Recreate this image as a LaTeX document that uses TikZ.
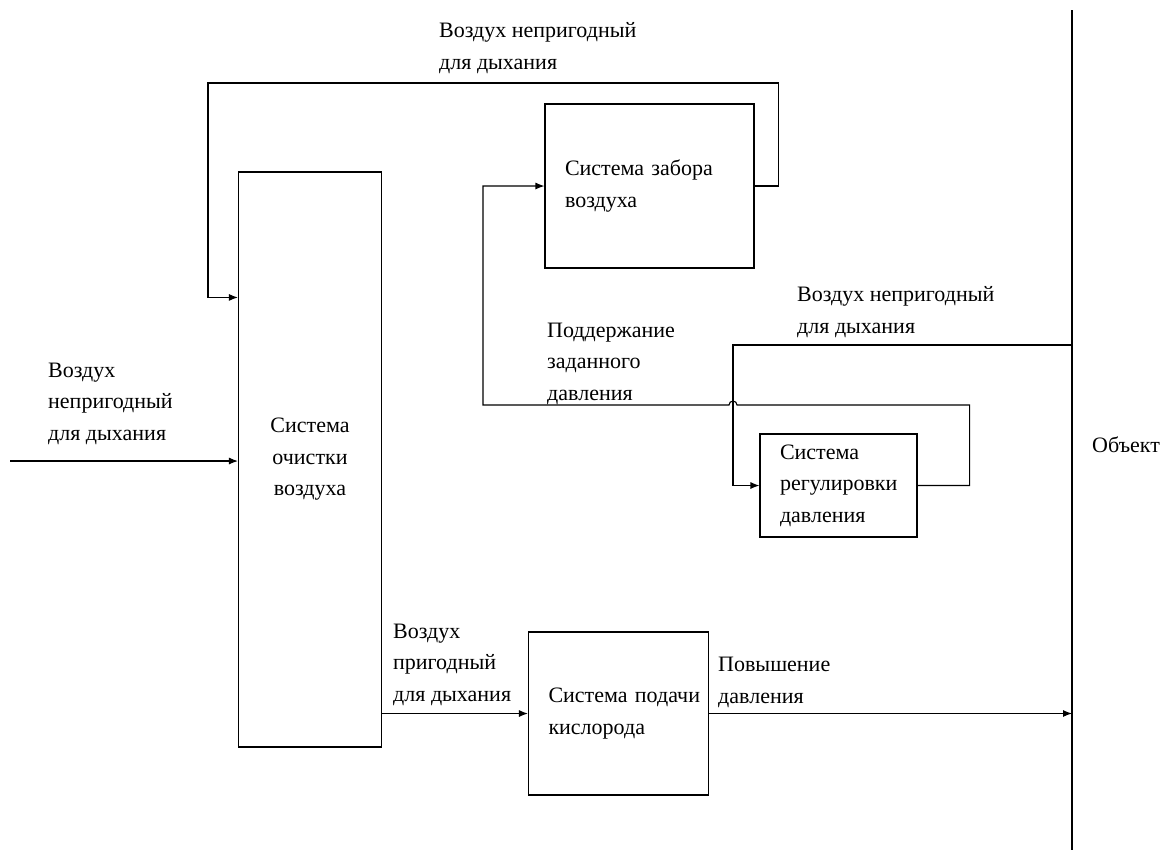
\documentclass[tikz,border=0pt]{standalone}
\usepackage{fontspec}
\setmainfont{Liberation Serif}
\newfontfamily\diagfont{Liberation Serif}
\usetikzlibrary{arrows.meta}
\tikzset{>={Latex[length=9pt,width=7pt]}}
\tikzset{%
  block/.style={draw, line width=1.1pt, inner ysep=0pt, align=left},
  flow/.style={->, line width=1.1pt},
  lbl/.style={anchor=base west, inner sep=0pt, align=left},
}

\begin{document}
\begin{tikzpicture}[x=1pt, y=-1pt, font=\diagfont\fontsize{22}{31.5}\selectfont]

    \useasboundingbox (0,0) rectangle (1164,852);

    % set up basic coordinates
    \coordinate (inlet) at (10,461);
    \coordinate (objtop) at (1072,10);
    \coordinate (objbot) at (1072,850);
    \coordinate (topleft) at (208,83);
    \coordinate (tap) at (1072,345);
    \coordinate (drop) at (733,345);
    \coordinate (hopR) at (737,405);
    \coordinate (backL) at (483,405);

    % draw the four systems
    \node[block, align=center, minimum width=143pt, minimum height=575pt] (clean) at (310,459.5) {Система\\очистки\\воздуха};
    \node[block, text width=169pt, inner xsep=20pt, minimum height=164pt] (intake) at (649.5,186) {Система забора\\воздуха};
    \node[block, text width=117pt, inner xsep=20pt, minimum height=103pt] (regul) at (838.5,485.5) {Система\\регулировки\\давления};
    \node[block, text width=140pt, inner xsep=20pt, minimum height=163pt] (oxygen) at (618.5,713.5) {Система~подачи\\кислорода};

    % the object border
    \draw[line width=1.1pt] (objtop) -- (objbot);
    \node[lbl] (object) at (1092,452) {Объект};

    % air coming in
    \draw[flow] (inlet) -- (inlet -| clean.west);
    \node[lbl] (lblIn) at (48,440) {Воздух\\непригодный\\для дыхания};

    % loop from intake back to cleaning
    \draw[flow] (intake.east) -- ++(24,0) |- (topleft) |- ([yshift=-126pt]clean.north west);
    \node[lbl] (lblTop) at (439,69) {Воздух непригодный\\для дыхания};

    % loop from regulation back to intake, with a hop over the feed line
    \draw[flow] (regul.east) -- ++(52,0) |- (hopR) arc[start angle=0, end angle=180, radius=4pt] -- (backL) |- (intake.west);
    \node[lbl] (lblHold) at (547,400) {Поддержание\\заданного\\давления};

    % feed from the object into regulation
    \draw[flow] (tap) -- (drop) |- (regul.west);
    \node[lbl] (lblRight) at (797,333) {Воздух непригодный\\для дыхания};

    % clean air to oxygen supply
    \draw[flow] (clean.east |- oxygen.west) -- (oxygen.west);
    \node[lbl] (lblGood) at (393,701) {Воздух\\пригодный\\для дыхания};

    % pressure rise to the object
    \draw[flow] (oxygen.east) -- (oxygen.east -| objtop);
    \node[lbl] (lblRise) at (718,703) {Повышение\\давления};

\end{tikzpicture}
\end{document}
